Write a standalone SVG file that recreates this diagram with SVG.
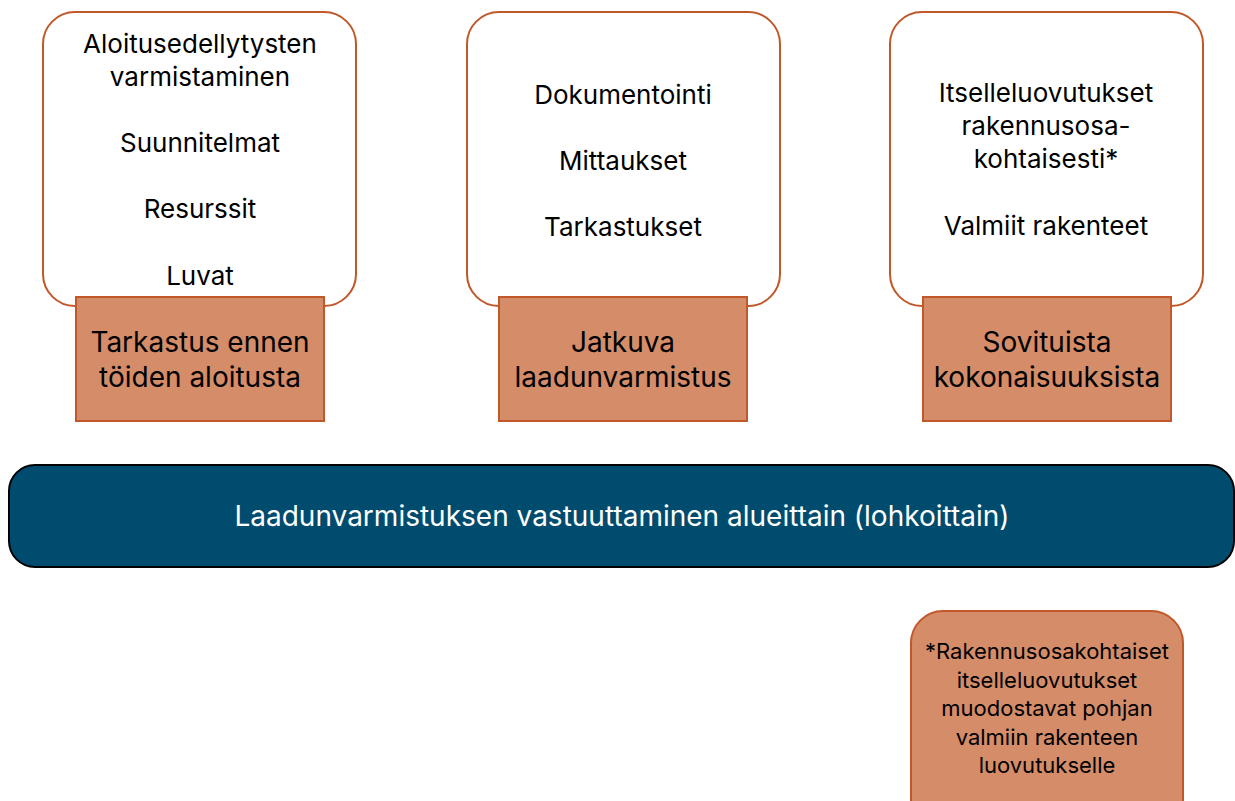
<svg xmlns="http://www.w3.org/2000/svg" width="1235" height="801" viewBox="0 0 1235 801">
<style>
.card{fill:#ffffff;stroke:#C0582A;stroke-width:2}
.lab{fill:#D58C69;stroke:#C0582A;stroke-width:2}
.t{font-family:Inter,"Liberation Sans",sans-serif;fill:#000;text-anchor:middle}
.b{font-size:26px}
.l{font-size:28px}
.n{font-size:22px}
</style>
<rect width="1235" height="801" fill="#ffffff"/>
<g id="node-aloitus">
<rect class="card" x="43" y="12" width="313" height="294" rx="32"/>
<text class="t b" x="200" y="53">Aloitusedellytysten</text>
<text class="t b" x="200" y="86">varmistaminen</text>
<text class="t b" x="200" y="152">Suunnitelmat</text>
<text class="t b" x="200" y="218">Resurssit</text>
<text class="t b" x="200" y="285">Luvat</text>
</g>
<g id="node-tarkastus">
<rect class="lab" x="76" y="297" width="248" height="124"/>
<text class="t l" x="200" y="352">Tarkastus ennen</text>
<text class="t l" x="200" y="387">töiden aloitusta</text>
</g>
<g id="node-dokumentointi">
<rect class="card" x="467" y="12" width="313" height="294" rx="32"/>
<text class="t b" x="623" y="104">Dokumentointi</text>
<text class="t b" x="623" y="170">Mittaukset</text>
<text class="t b" x="623" y="236">Tarkastukset</text>
</g>
<g id="node-jatkuva">
<rect class="lab" x="499" y="297" width="248" height="124"/>
<text class="t l" x="623" y="352">Jatkuva</text>
<text class="t l" x="623" y="387">laadunvarmistus</text>
</g>
<g id="node-itselle">
<rect class="card" x="890" y="12" width="313" height="294" rx="32"/>
<text class="t b" x="1046" y="102">Itselleluovutukset</text>
<text class="t b" x="1046" y="135">rakennusosa-</text>
<text class="t b" x="1046" y="168">kohtaisesti*</text>
<text class="t b" x="1046" y="235">Valmiit rakenteet</text>
</g>
<g id="node-sovituista">
<rect class="lab" x="923" y="297" width="248" height="124"/>
<text class="t l" x="1047" y="352">Sovituista</text>
<text class="t l" x="1047" y="387">kokonaisuuksista</text>
</g>
<g id="node-banner">
<rect x="9" y="465" width="1225" height="102" rx="26" fill="#004C6F" stroke="#000" stroke-width="2"/>
<text class="t" x="622" y="526" font-size="28" style="fill:#ffffff">Laadunvarmistuksen vastuuttaminen alueittain (lohkoittain)</text>
</g>
<g id="node-note">
<rect class="lab" x="911" y="611" width="272" height="220" rx="32"/>
<text class="t n" x="1047" y="659">*Rakennusosakohtaiset</text>
<text class="t n" x="1047" y="688">itselleluovutukset</text>
<text class="t n" x="1047" y="716">muodostavat pohjan</text>
<text class="t n" x="1047" y="745">valmiin rakenteen</text>
<text class="t n" x="1047" y="773">luovutukselle</text>
</g>
<g id="connectors"></g>
</svg>
